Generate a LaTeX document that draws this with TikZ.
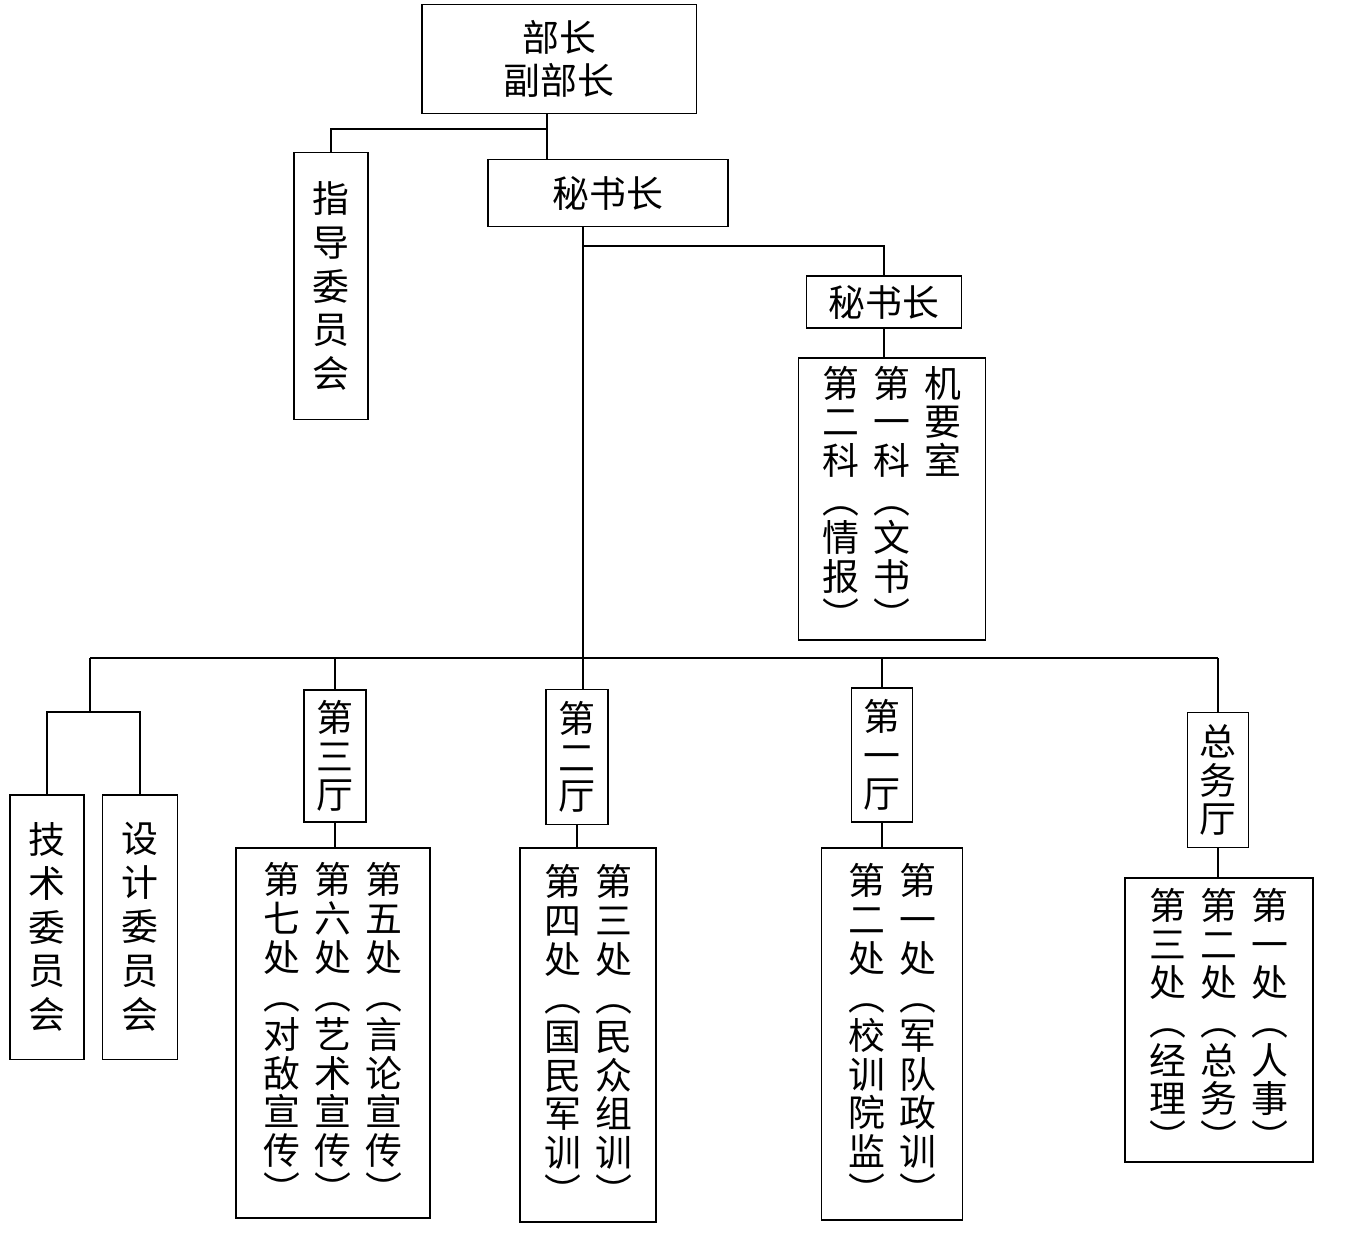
\documentclass[tikz,border=0pt]{standalone}
\usepackage{fontspec}
\setmainfont{Noto Sans CJK SC}
\newcommand{\colgap}{\hspace{8pt}}
\newcommand{\blank}{\phantom{第}}

\begin{document}
\begin{tikzpicture}[x=0.02cm, y=-0.02cm, line width=1.1pt,
  box/.style={draw, inner sep=0pt, align=center, font=\fontsize{21}{22}\selectfont},
  boxsize/.style 2 args={minimum width=#1*0.2mm, minimum height=#2*0.2mm},
  tall/.style={font=\fontsize{21}{25}\selectfont}]
  \useasboundingbox (0,0) rectangle (1362,1247);

  % upper part
  \node[box, boxsize={275}{109}, font=\fontsize{21}{24}\selectfont] (top) at (559,59) {部长\\副部长};
  \node[box, tall, boxsize={74}{267}] (guide) at (331,286) {指\\导\\委\\员\\会};
  \node[box, boxsize={240}{67}] (sec) at (608,193) {秘书长};
  \node[box, boxsize={155}{52}] (sec2) at (884,302) {秘书长};
  \node[box, boxsize={187}{282}] (office) at (892,499) {%
    第\colgap 第\colgap 机\\二\colgap 一\colgap 要\\科\colgap 科\colgap 室\\
    ︵\colgap ︵\colgap \blank\\情\colgap 文\colgap \blank\\报\colgap 书\colgap \blank\\
    ︶\colgap ︶\colgap \blank};

  % lower part
  \node[box, tall, boxsize={74}{265}] (tech) at (47,927) {技\\术\\委\\员\\会};
  \node[box, tall, boxsize={75}{265}] (design) at (140,927) {设\\计\\委\\员\\会};
  \node[box, boxsize={62}{132}] (hall3) at (335,756) {第\\三\\厅};
  \node[box, boxsize={62}{135}] (hall2) at (577,757) {第\\二\\厅};
  \node[box, boxsize={61}{134}] (hall1) at (882,755) {第\\一\\厅};
  \node[box, boxsize={61}{135}] (hallg) at (1218,780) {总\\务\\厅};

  \node[box, boxsize={194}{370}] (div3) at (333,1033) {%
    第\colgap 第\colgap 第\\七\colgap 六\colgap 五\\处\colgap 处\colgap 处\\
    ︵\colgap ︵\colgap ︵\\对\colgap 艺\colgap 言\\敌\colgap 术\colgap 论\\
    宣\colgap 宣\colgap 宣\\传\colgap 传\colgap 传\\︶\colgap ︶\colgap ︶};
  \node[box, boxsize={136}{374}] (div2) at (588,1035) {%
    第\colgap 第\\四\colgap 三\\处\colgap 处\\︵\colgap ︵\\国\colgap 民\\
    民\colgap 众\\军\colgap 组\\训\colgap 训\\︶\colgap ︶};
  \node[box, boxsize={141}{372}] (div1) at (892,1034) {%
    第\colgap 第\\二\colgap 一\\处\colgap 处\\︵\colgap ︵\\校\colgap 军\\
    训\colgap 队\\院\colgap 政\\监\colgap 训\\︶\colgap ︶};
  \node[box, boxsize={188}{284}] (divg) at (1219,1020) {%
    第\colgap 第\colgap 第\\三\colgap 二\colgap 一\\处\colgap 处\colgap 处\\
    ︵\colgap ︵\colgap ︵\\经\colgap 总\colgap 人\\理\colgap 务\colgap 事\\
    ︶\colgap ︶\colgap ︶};

  % junctions
  \coordinate (j1) at (547,129);
  \coordinate (j2) at (583,246);
  \coordinate (j3) at (583,658);
  \coordinate (bl) at (90,658);
  \coordinate (br) at (1218,658);
  \coordinate (j4) at (90,712);

  % connectors
  \draw (top.south -| j1) -- (j1) -- (j1 |- sec.north);
  \draw (j1) -| (guide.north);
  \draw (sec.south -| j2) -- (j3);
  \draw (j2) -| (sec2.north);
  \draw (sec2.south) -- (sec2.south |- office.north);
  \draw (bl) -- (br);
  \draw (bl) -- (j4);
  \draw (tech.north) |- (j4) -| (design.north);
  \draw (hall3.north |- bl) -- (hall3.north);
  \draw (j3) -- (j3 |- hall2.north);
  \draw (hall1.north |- bl) -- (hall1.north);
  \draw (br) -- (hallg.north);
  \draw (hall3.south) -- (hall3.south |- div3.north);
  \draw (hall2.south) -- (hall2.south |- div2.north);
  \draw (hall1.south) -- (hall1.south |- div1.north);
  \draw (hallg.south) -- (hallg.south |- divg.north);
\end{tikzpicture}
\end{document}
